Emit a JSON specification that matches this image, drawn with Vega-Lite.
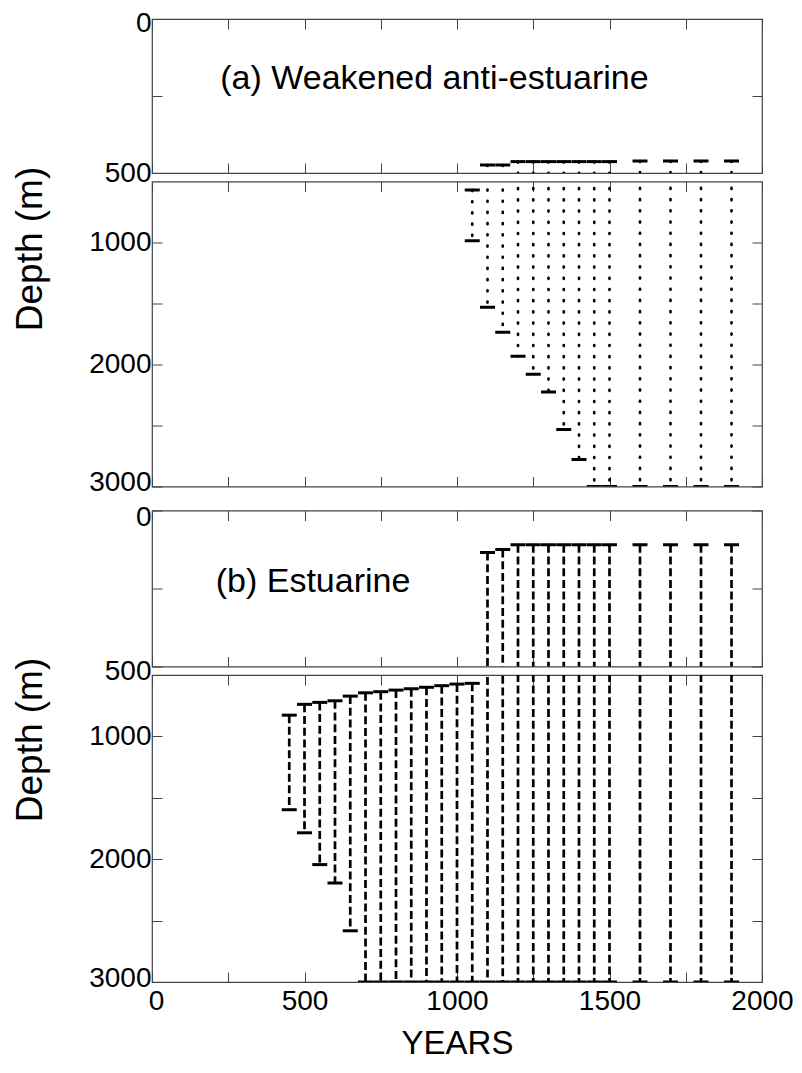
{
  "$schema": "https://vega.github.io/schema/vega-lite/v6.json",
  "padding": {"left": 11, "top": 8, "right": 5, "bottom": 5},
  "data": {"values": [
    {"p": "a", "year": 1050, "top": 570, "bottom": 985},
    {"p": "a", "year": 1100, "top": 474, "bottom": 1530},
    {"p": "a", "year": 1150, "top": 474, "bottom": 1736},
    {"p": "a", "year": 1200, "top": 463, "bottom": 1932},
    {"p": "a", "year": 1250, "top": 463, "bottom": 2079},
    {"p": "a", "year": 1300, "top": 463, "bottom": 2226},
    {"p": "a", "year": 1350, "top": 463, "bottom": 2532},
    {"p": "a", "year": 1400, "top": 463, "bottom": 2779},
    {"p": "a", "year": 1450, "top": 463, "bottom": 3000},
    {"p": "a", "year": 1500, "top": 463, "bottom": 3000},
    {"p": "a", "year": 1600, "top": 461, "bottom": 3000},
    {"p": "a", "year": 1700, "top": 461, "bottom": 3000},
    {"p": "a", "year": 1800, "top": 461, "bottom": 3000},
    {"p": "a", "year": 1900, "top": 461, "bottom": 3000},
    {"p": "b", "year": 450, "top": 827, "bottom": 1597},
    {"p": "b", "year": 500, "top": 739, "bottom": 1785},
    {"p": "b", "year": 550, "top": 723, "bottom": 2044},
    {"p": "b", "year": 600, "top": 710, "bottom": 2194},
    {"p": "b", "year": 650, "top": 672, "bottom": 2583},
    {"p": "b", "year": 700, "top": 645, "bottom": 3000},
    {"p": "b", "year": 750, "top": 636, "bottom": 3000},
    {"p": "b", "year": 800, "top": 623, "bottom": 3000},
    {"p": "b", "year": 850, "top": 612, "bottom": 3000},
    {"p": "b", "year": 900, "top": 600, "bottom": 3000},
    {"p": "b", "year": 950, "top": 587, "bottom": 3000},
    {"p": "b", "year": 1000, "top": 574, "bottom": 3000},
    {"p": "b", "year": 1050, "top": 568, "bottom": 3000},
    {"p": "b", "year": 1100, "top": 135, "bottom": 3000},
    {"p": "b", "year": 1150, "top": 125, "bottom": 3000},
    {"p": "b", "year": 1200, "top": 110, "bottom": 3000},
    {"p": "b", "year": 1250, "top": 110, "bottom": 3000},
    {"p": "b", "year": 1300, "top": 110, "bottom": 3000},
    {"p": "b", "year": 1350, "top": 110, "bottom": 3000},
    {"p": "b", "year": 1400, "top": 110, "bottom": 3000},
    {"p": "b", "year": 1450, "top": 110, "bottom": 3000},
    {"p": "b", "year": 1500, "top": 110, "bottom": 3000},
    {"p": "b", "year": 1600, "top": 110, "bottom": 3000},
    {"p": "b", "year": 1700, "top": 110, "bottom": 3000},
    {"p": "b", "year": 1800, "top": 110, "bottom": 3000},
    {"p": "b", "year": 1900, "top": 110, "bottom": 3000}
  ]},
  "spacing": 8.5,
  "bounds": "flush",
  "vconcat": [
    {
      "width": 610, "height": 154,
      "transform": [{"filter": "datum.p == 'a'"}],
      "layer": [
        {"mark": {"type": "rule", "clip": true, "color": "black", "strokeWidth": 2.7, "strokeDash": [1, 10.2], "strokeCap": "round"},
         "encoding": {
           "x": {"field": "year", "type": "quantitative", "scale": {"domain": [0, 2000], "nice": false}, "axis": {"orient": "bottom", "values": [0,250,500,750,1000,1250,1500,1750,2000], "labels": false, "tickSize": -10, "domain": false, "grid": false, "title": null}},
           "y": {"field": "top", "type": "quantitative", "scale": {"domain": [0, 500], "reverse": true, "nice": false, "zero": false}, "axis": {"orient": "left", "values": [0, 250, 500], "labelExpr": "datum.value == 250 ? '' : datum.label", "labelOffset": {"condition": {"test": "datum.value == 0", "value": 4}, "value": 0}, "format": "d", "tickSize": -10, "labelPadding": 11, "domain": false, "grid": false, "title": null, "labelFlush": false, "labelOverlap": false}},
           "y2": {"field": "bottom"}}},
        {"mark": {"type": "tick", "orient": "horizontal", "clip": true, "color": "black", "opacity": 1, "size": 15, "thickness": 3},
         "encoding": {
           "x": {"field": "year", "type": "quantitative", "scale": {"domain": [0, 2000], "nice": false}, "axis": {"orient": "top", "values": [0,250,500,750,1000,1250,1500,1750,2000], "labels": false, "tickSize": -10, "domain": false, "grid": false, "title": null}},
           "y": {"field": "top", "type": "quantitative", "scale": {"domain": [0, 500], "reverse": true, "nice": false, "zero": false}, "axis": {"orient": "right", "values": [0, 250, 500], "labels": false, "tickSize": -10, "domain": false, "grid": false, "title": null}}}},
        {"mark": {"type": "tick", "orient": "horizontal", "clip": true, "color": "black", "opacity": 1, "size": 15, "thickness": 3},
         "encoding": {
           "x": {"field": "year", "type": "quantitative", "scale": {"domain": [0, 2000], "nice": false}, "axis": null},
           "y": {"field": "bottom", "type": "quantitative", "scale": {"domain": [0, 500], "reverse": true, "nice": false, "zero": false}, "axis": null}}},
        {"data": {"values": [{}]},
         "mark": {"type": "text", "fontSize": 34, "font": "Liberation Sans", "color": "black", "align": "center", "baseline": "middle"},
         "encoding": {
           "x": {"datum": 926, "type": "quantitative", "scale": {"domain": [0, 2000], "nice": false}, "axis": null},
           "y": {"datum": 195, "type": "quantitative", "scale": {"domain": [0, 500], "reverse": true, "nice": false, "zero": false}, "axis": null},
           "text": {"value": "(a) Weakened anti-estuarine"}}}
      ],
      "resolve": {"axis": {"x": "independent", "y": "independent"}}
    },
    {
      "width": 610, "height": 305,
      "transform": [{"filter": "datum.p == 'a'"}],
      "layer": [
        {"mark": {"type": "rule", "clip": true, "color": "black", "strokeWidth": 2.7, "strokeDash": [1, 10.2], "strokeCap": "round"},
         "encoding": {
           "x": {"field": "year", "type": "quantitative", "scale": {"domain": [0, 2000], "nice": false}, "axis": {"orient": "bottom", "values": [0,250,500,750,1000,1250,1500,1750,2000], "labels": false, "tickSize": -10, "domain": false, "grid": false, "title": null}},
           "y": {"field": "top", "type": "quantitative", "scale": {"domain": [500, 3000], "reverse": true, "nice": false, "zero": false}, "axis": {"orient": "left", "values": [1000, 1500, 2000, 2500, 3000], "labelExpr": "datum.value % 1000 == 0 ? datum.label : ''", "labelOffset": {"condition": {"test": "datum.value == 3000", "value": -4}, "value": 0}, "format": "d", "tickSize": -10, "labelPadding": 11, "domain": false, "grid": false, "title": "Depth (m)", "titleFontSize": 37, "titleY": 67, "titlePadding": 39, "labelFlush": false, "labelOverlap": false}},
           "y2": {"field": "bottom"}}},
        {"mark": {"type": "tick", "orient": "horizontal", "clip": true, "color": "black", "opacity": 1, "size": 15, "thickness": 3},
         "encoding": {
           "x": {"field": "year", "type": "quantitative", "scale": {"domain": [0, 2000], "nice": false}, "axis": {"orient": "top", "values": [0,250,500,750,1000,1250,1500,1750,2000], "labels": false, "tickSize": -10, "domain": false, "grid": false, "title": null}},
           "y": {"field": "top", "type": "quantitative", "scale": {"domain": [500, 3000], "reverse": true, "nice": false, "zero": false}, "axis": {"orient": "right", "values": [1000, 1500, 2000, 2500, 3000], "labels": false, "tickSize": -10, "domain": false, "grid": false, "title": null}}}},
        {"mark": {"type": "tick", "orient": "horizontal", "clip": true, "color": "black", "opacity": 1, "size": 15, "thickness": 3},
         "encoding": {
           "x": {"field": "year", "type": "quantitative", "scale": {"domain": [0, 2000], "nice": false}, "axis": null},
           "y": {"field": "bottom", "type": "quantitative", "scale": {"domain": [500, 3000], "reverse": true, "nice": false, "zero": false}, "axis": null}}}
      ],
      "resolve": {"axis": {"x": "independent", "y": "independent"}}
    },
    {
      "width": 610, "height": 6.5,
      "data": {"values": [{}]},
      "mark": {"type": "point", "opacity": 0},
      "encoding": {},
      "view": {"stroke": null}
    },
    {
      "width": 610, "height": 156,
      "transform": [{"filter": "datum.p == 'b'"}],
      "layer": [
        {"mark": {"type": "rule", "clip": true, "color": "black", "strokeWidth": 2.7, "strokeDash": [8, 3.7]},
         "encoding": {
           "x": {"field": "year", "type": "quantitative", "scale": {"domain": [0, 2000], "nice": false}, "axis": {"orient": "bottom", "values": [0,250,500,750,1000,1250,1500,1750,2000], "labels": false, "tickSize": -10, "domain": false, "grid": false, "title": null}},
           "y": {"field": "top", "type": "quantitative", "scale": {"domain": [0, 500], "reverse": true, "nice": false, "zero": false}, "axis": {"orient": "left", "values": [0, 250, 500], "labelExpr": "datum.value == 250 ? '' : datum.label", "labelOffset": {"condition": {"test": "datum.value == 0", "value": 7}, "value": 5}, "format": "d", "tickSize": -10, "labelPadding": 11, "domain": false, "grid": false, "title": null, "labelFlush": false, "labelOverlap": false}},
           "y2": {"field": "bottom"}}},
        {"mark": {"type": "tick", "orient": "horizontal", "clip": true, "color": "black", "opacity": 1, "size": 15, "thickness": 3},
         "encoding": {
           "x": {"field": "year", "type": "quantitative", "scale": {"domain": [0, 2000], "nice": false}, "axis": {"orient": "top", "values": [0,250,500,750,1000,1250,1500,1750,2000], "labels": false, "tickSize": -10, "domain": false, "grid": false, "title": null}},
           "y": {"field": "top", "type": "quantitative", "scale": {"domain": [0, 500], "reverse": true, "nice": false, "zero": false}, "axis": {"orient": "right", "values": [0, 250, 500], "labels": false, "tickSize": -10, "domain": false, "grid": false, "title": null}}}},
        {"mark": {"type": "tick", "orient": "horizontal", "clip": true, "color": "black", "opacity": 1, "size": 15, "thickness": 3},
         "encoding": {
           "x": {"field": "year", "type": "quantitative", "scale": {"domain": [0, 2000], "nice": false}, "axis": null},
           "y": {"field": "bottom", "type": "quantitative", "scale": {"domain": [0, 500], "reverse": true, "nice": false, "zero": false}, "axis": null}}},
        {"data": {"values": [{}]},
         "mark": {"type": "text", "fontSize": 34, "font": "Liberation Sans", "color": "black", "align": "center", "baseline": "middle"},
         "encoding": {
           "x": {"datum": 528, "type": "quantitative", "scale": {"domain": [0, 2000], "nice": false}, "axis": null},
           "y": {"datum": 228, "type": "quantitative", "scale": {"domain": [0, 500], "reverse": true, "nice": false, "zero": false}, "axis": null},
           "text": {"value": "(b) Estuarine"}}}
      ],
      "resolve": {"axis": {"x": "independent", "y": "independent"}}
    },
    {
      "width": 610, "height": 307,
      "transform": [{"filter": "datum.p == 'b'"}],
      "layer": [
        {"mark": {"type": "rule", "clip": true, "color": "black", "strokeWidth": 2.7, "strokeDash": [8, 3.7]},
         "encoding": {
           "x": {"field": "year", "type": "quantitative", "scale": {"domain": [0, 2000], "nice": false}, "axis": {"orient": "bottom", "values": [0,250,500,750,1000,1250,1500,1750,2000], "labelExpr": "datum.value % 500 == 0 ? datum.label : ''", "labelOffset": {"condition": {"test": "datum.value == 0", "value": 4}, "value": 0}, "format": "d", "tickSize": -10, "labelPadding": 15, "domain": false, "grid": false, "title": "YEARS", "titleFontSize": 33, "titlePadding": 12, "labelFlush": false, "labelOverlap": false}},
           "y": {"field": "top", "type": "quantitative", "scale": {"domain": [500, 3000], "reverse": true, "nice": false, "zero": false}, "axis": {"orient": "left", "values": [1000, 1500, 2000, 2500, 3000], "labelExpr": "datum.value % 1000 == 0 ? datum.label : ''", "labelOffset": {"condition": {"test": "datum.value == 3000", "value": -4}, "value": 0}, "format": "d", "tickSize": -10, "labelPadding": 11, "domain": false, "grid": false, "title": "Depth (m)", "titleFontSize": 37, "titleY": 64.5, "titlePadding": 39, "labelFlush": false, "labelOverlap": false}},
           "y2": {"field": "bottom"}}},
        {"mark": {"type": "tick", "orient": "horizontal", "clip": true, "color": "black", "opacity": 1, "size": 15, "thickness": 3},
         "encoding": {
           "x": {"field": "year", "type": "quantitative", "scale": {"domain": [0, 2000], "nice": false}, "axis": {"orient": "top", "values": [0,250,500,750,1000,1250,1500,1750,2000], "labels": false, "tickSize": -10, "domain": false, "grid": false, "title": null}},
           "y": {"field": "top", "type": "quantitative", "scale": {"domain": [500, 3000], "reverse": true, "nice": false, "zero": false}, "axis": {"orient": "right", "values": [1000, 1500, 2000, 2500, 3000], "labels": false, "tickSize": -10, "domain": false, "grid": false, "title": null}}}},
        {"mark": {"type": "tick", "orient": "horizontal", "clip": true, "color": "black", "opacity": 1, "size": 15, "thickness": 3},
         "encoding": {
           "x": {"field": "year", "type": "quantitative", "scale": {"domain": [0, 2000], "nice": false}, "axis": null},
           "y": {"field": "bottom", "type": "quantitative", "scale": {"domain": [500, 3000], "reverse": true, "nice": false, "zero": false}, "axis": null}}}
      ],
      "resolve": {"axis": {"x": "independent", "y": "independent"}}
    }
  ],
  "config": {
    "font": "Liberation Sans",
    "view": {"stroke": "#444", "strokeWidth": 1.2},
    "axis": {"labelFont": "Liberation Sans", "labelFontSize": 28, "labelColor": "black", "tickColor": "#444", "tickWidth": 1, "titleFont": "Liberation Sans", "titleFontWeight": "normal", "titleColor": "black"}
  }
}
